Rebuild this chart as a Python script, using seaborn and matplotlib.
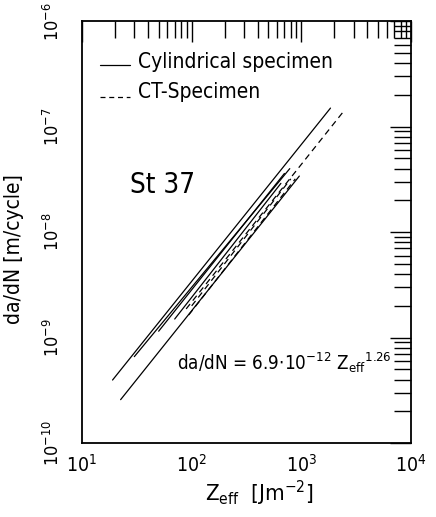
import matplotlib
matplotlib.use("Agg")
import matplotlib.pyplot as plt
import seaborn as sns
import pandas as pd
import numpy as np
from matplotlib.ticker import LogLocator, NullFormatter, FixedLocator

sns.set_theme(style="white")
plt.rcParams['font.family'] = ['DejaVu Sans']
plt.rcParams['font.stretch'] = 'condensed'
plt.rcParams['text.color'] = 'black'
plt.rcParams['axes.labelcolor'] = 'black'
plt.rcParams['xtick.color'] = 'black'
plt.rcParams['ytick.color'] = 'black'

# Data: straight lines in log-log space (start / end points)
line_ids   = ["S1", "S2", "S3", "S4", "S5", "D1", "D2", "D3"]
specimen   = ["Cylindrical specimen"] * 5 + ["CT-Specimen"] * 3
z_start    = [19, 22.5, 30, 50, 70, 89, 94, 100]
z_end      = [1840, 957, 783, 700, 650, 2400, 880, 800]
dadn_start = [3.96e-10, 2.58e-10, 6.6e-10, 1.15e-9, 1.5e-9, 1.87e-9, 1.64e-9, 2.0e-9]
dadn_end   = [1.5e-7, 3.4e-8, 4.0e-8, 3.6e-8, 2.9e-8, 1.38e-7, 3.2e-8, 3.2e-8]

x_ticks = [1e1, 1e2, 1e3, 1e4]
x_ticklabels = [r"$\mathregular{10^1}$", r"$\mathregular{10^2}$",
                r"$\mathregular{10^3}$", r"$\mathregular{10^4}$"]
y_ticks = [1e-10, 1e-9, 1e-8, 1e-7, 1e-6]
y_ticklabels = [r"$\mathregular{10^{-10}}$", r"$\mathregular{10^{-9}}$",
                r"$\mathregular{10^{-8}}$", r"$\mathregular{10^{-7}}$",
                r"$\mathregular{10^{-6}}$"]

rows = []
for i, lid in enumerate(line_ids):
    rows.append(dict(line=lid, spec=specimen[i], Z=z_start[i], dadn=dadn_start[i]))
    rows.append(dict(line=lid, spec=specimen[i], Z=z_end[i], dadn=dadn_end[i]))
df = pd.DataFrame(rows)

fig = plt.figure(figsize=(4.36, 5.17), dpi=100)
ax = fig.add_axes([0.188, 0.143, 0.755, 0.816])

for lid in line_ids:
    sub = df[df.line == lid]
    dashed = sub.spec.iloc[0] == "CT-Specimen"
    sns.lineplot(data=sub, x="Z", y="dadn", ax=ax, color="black", lw=0.9,
                 linestyle=(0, (5, 3.5)) if dashed else "-", legend=False)

ax.set_xscale("log")
ax.set_yscale("log")
ax.set_xlim(1e1, 1e4)
ax.set_ylim(1e-10, 1e-6)

ax.xaxis.set_major_locator(FixedLocator(x_ticks))
ax.set_xticklabels(x_ticklabels, fontsize=14)
ax.yaxis.set_major_locator(FixedLocator(y_ticks))
ax.set_yticklabels(y_ticklabels, fontsize=13, rotation=90, va="center")
ax.xaxis.set_minor_locator(LogLocator(base=10, subs=np.arange(2, 10)))
ax.yaxis.set_minor_locator(LogLocator(base=10, subs=np.arange(2, 10)))
ax.xaxis.set_minor_formatter(NullFormatter())
ax.yaxis.set_minor_formatter(NullFormatter())
ax.tick_params(which="both", direction="in", top=True, right=True, width=1.0)
ax.tick_params(which="major", length=15)
ax.tick_params(which="minor", length=12)
ax.tick_params(axis="x", which="major", pad=8)
ax.tick_params(axis="y", which="major", pad=14)
for sp in ax.spines.values():
    sp.set_color("black")
    sp.set_linewidth(1.3)

ax.set_xlabel(r"$\mathregular{Z_{eff}}$  [$\mathregular{Jm^{-2}}$]", fontsize=16)
ax.set_ylabel("da/dN [m/cycle]", fontsize=15)
ax.xaxis.set_label_coords(0.54, -0.085)
ax.yaxis.set_label_coords(-0.175, 0.46)

# legend drawn as sample lines with text
ax.plot([0.055, 0.146], [0.896, 0.896], transform=ax.transAxes, color="black", lw=0.9)
ax.plot([0.055, 0.146], [0.82, 0.82], transform=ax.transAxes, color="black", lw=0.9,
        linestyle=(0, (4, 3)))
ax.text(0.17, 0.903, "Cylindrical specimen", transform=ax.transAxes, fontsize=15,
        va="center", ha="left")
ax.text(0.17, 0.832, "CT-Specimen", transform=ax.transAxes, fontsize=15,
        va="center", ha="left")

ax.text(0.147, 0.611, "St 37", transform=ax.transAxes, fontsize=20, va="center")
ax.text(0.29, 0.19,
        r"da/dN = 6.9$\mathregular{\cdot 10^{-12}}$ Z$\mathregular{_{eff}}$$\mathregular{^{1.26}}$",
        transform=ax.transAxes, fontsize=13.5, va="center")

fig.savefig("out.png", dpi=100, facecolor="white")
